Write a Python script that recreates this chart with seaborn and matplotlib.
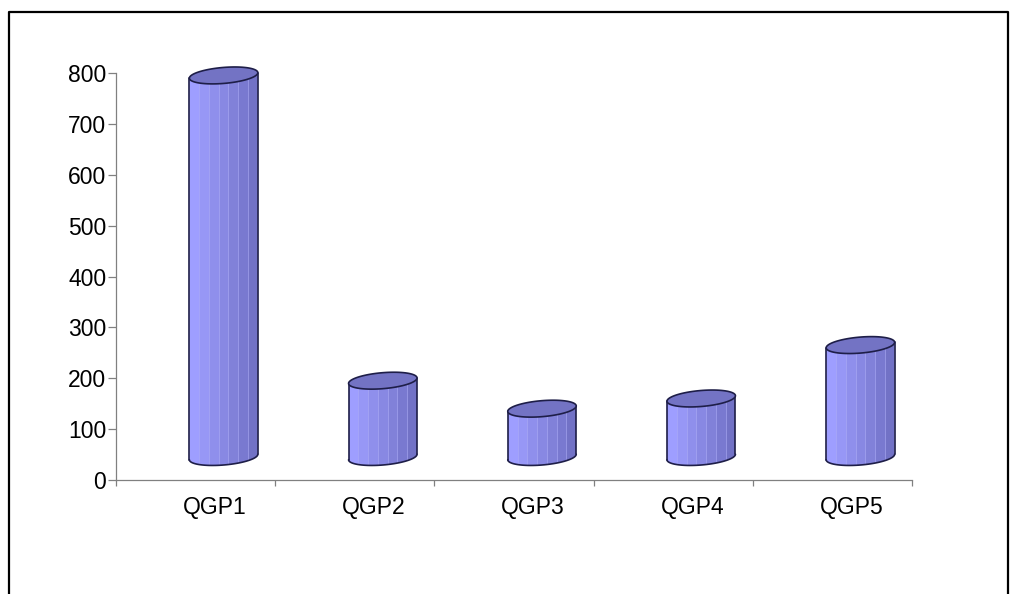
import numpy as np
import pandas as pd
import matplotlib
matplotlib.use("Agg")
import matplotlib.pyplot as plt
import seaborn as sns
from matplotlib.patches import Polygon, Rectangle
from matplotlib.lines import Line2D
from matplotlib.transforms import offset_copy

# Chart data
categories = ["QGP1", "QGP2", "QGP3", "QGP4", "QGP5"]
values = [750, 150, 95, 115, 220]
y_ticks = [0, 100, 200, 300, 400, 500, 600, 700, 800]

sns.set_theme(style="white")
plt.rcParams["font.family"] = ["Liberation Sans", "DejaVu Sans"]

W, H = 1010, 594
DPI = 100
fig = plt.figure(figsize=(W / DPI, H / DPI), dpi=DPI)
ax = fig.add_axes([116 / W, 114 / H, 796 / W, 407 / H])

df = pd.DataFrame({"category": categories, "value": values})
sns.barplot(data=df, x="category", y="value", width=0.43, color="#9090F0", ax=ax)

ax.set_xlim(-0.5, len(categories) - 0.5)
ax.set_ylim(0, 800)
ax.set_xlabel("")
ax.set_ylabel("")

# pixel <-> data scale factors of the plot area
px_per_x = 796 / len(categories)
px_per_y = 407 / 800

# cylinders sit back in depth: shifted right and up
depth = offset_copy(ax.transData, fig=fig, x=28, y=23, units="dots")

ry = 8.0 / px_per_y                  # vertical semi-axis of the end caps
k = 0.08 * px_per_x / px_per_y       # slight tilt of the caps

outline = "#1E1E48"
cap_color = "#7373C4"
left_rgb = np.array([158, 158, 255]) / 255
right_rgb = np.array([114, 114, 198]) / 255
sep_color = "#B0B0FA"
n_facets = 7

for p in list(ax.patches):
    x0, w, h = p.get_x(), p.get_width(), p.get_height()
    p.set_visible(False)
    cx, rx = x0 + w / 2, w / 2

    def cap(theta, cy):
        c, s = np.cos(theta), np.sin(theta)
        return np.column_stack([cx + rx * c, cy + ry * s + k * rx * c])

    lower = np.linspace(np.pi, 2 * np.pi, 60)
    bottom_front = cap(lower, 0)
    top_front = cap(lower, h)

    body_pts = np.vstack([top_front[:1], bottom_front, top_front[::-1]])
    body = Polygon(body_pts, closed=True, transform=depth, facecolor="none",
                   edgecolor="none", clip_on=False, zorder=3)
    ax.add_patch(body)

    edges = np.linspace(cx - rx, cx + rx, n_facets + 1)
    for i in range(n_facets):
        t = i / (n_facets - 1)
        col = left_rgb * (1 - t) + right_rgb * t
        r = Rectangle((edges[i], -3 * ry - k * rx), edges[i + 1] - edges[i],
                      h + 6 * ry + 2 * k * rx, transform=depth,
                      facecolor=col, edgecolor="none", zorder=3.1)
        ax.add_patch(r)
        r.set_clip_path(body)
        if i > 0:
            ln = Line2D([edges[i], edges[i]], [-3 * ry - k * rx, h + 3 * ry],
                        transform=depth, color=sep_color, lw=0.5, alpha=0.8,
                        zorder=3.2)
            ax.add_line(ln)
            ln.set_clip_path(body)

    # outline of the body
    ax.add_line(Line2D([cx - rx, cx - rx], [-k * rx, h - k * rx], transform=depth,
                       color=outline, lw=1.2, zorder=4, clip_on=False))
    ax.add_line(Line2D([cx + rx, cx + rx], [k * rx, h + k * rx], transform=depth,
                       color=outline, lw=1.2, zorder=4, clip_on=False))
    ax.add_line(Line2D(bottom_front[:, 0], bottom_front[:, 1], transform=depth,
                       color=outline, lw=1.2, zorder=4, clip_on=False))

    # top cap
    top = cap(np.linspace(0, 2 * np.pi, 120), h)
    ax.add_patch(Polygon(top, closed=True, transform=depth, facecolor=cap_color,
                         edgecolor=outline, lw=1.2, zorder=5, clip_on=False))

# axes styling
axis_gray = "#808080"
for side in ("top", "right"):
    ax.spines[side].set_visible(False)
for side in ("left", "bottom"):
    ax.spines[side].set_color(axis_gray)
    ax.spines[side].set_linewidth(0.9)

ax.set_yticks(y_ticks)
ax.set_yticklabels([str(v) for v in y_ticks])
ax.tick_params(axis="y", which="major", direction="out", length=6, width=0.9,
               color=axis_gray, pad=1, labelsize=16.5, labelcolor="black", left=True)

bounds = np.arange(len(categories) + 1) - 0.5
ax.set_xticks(bounds)
ax.set_xticklabels([""] * len(bounds))
ax.tick_params(axis="x", which="major", direction="out", length=4.5, width=0.9,
               color=axis_gray, bottom=True)

label_tf = offset_copy(ax.transData, fig=fig, x=19, y=-34, units="dots")
for i, name in enumerate(categories):
    ax.text(i, 0, name, transform=label_tf, ha="center", va="baseline",
            fontsize=16.5, color="black", clip_on=False)

# outer frame
fig.add_artist(Line2D([9 / W, 9 / W, 1008 / W, 1008 / W],
                      [0, 1 - 12 / H, 1 - 12 / H, 0],
                      transform=fig.transFigure, color="black", lw=1.6))

fig.savefig("out.png", dpi=DPI)
